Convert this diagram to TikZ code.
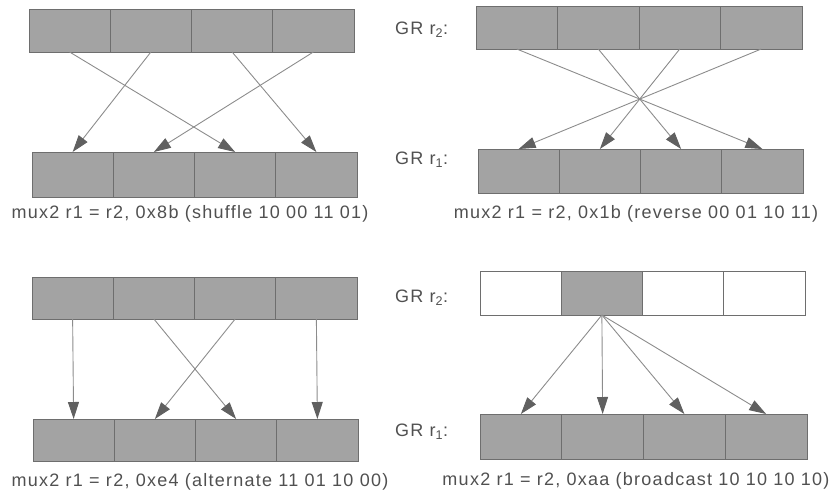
\documentclass[tikz,border=0pt]{standalone}
\usepackage{fontspec}
\setmainfont[LetterSpace=7]{Liberation Sans}
\usetikzlibrary{arrows.meta}
\definecolor{cellfill}{HTML}{A3A3A3}
\definecolor{celldraw}{HTML}{6E6E6E}
\definecolor{linec}{HTML}{8C8C8C}
\definecolor{tipc}{HTML}{606060}
\definecolor{txtc}{HTML}{505050}
\newcommand\mkreg[5]{%
  \pgfmathsetmacro\cw{(#4-#2)/4}%
  \pgfmathsetmacro\ch{#5-#3}%
  \foreach \i in {1,...,4}{%
    \node[cell, minimum width=\cw pt, minimum height=\ch pt, anchor=north west]
      (#1\i) at ({#2+(\i-1)*\cw},#3) {};
  }%
}
\begin{document}
\begin{tikzpicture}[x=1pt,y=-1pt,
  cell/.style={draw=celldraw, fill=cellfill, line width=0.7pt, inner sep=0pt, outer sep=0pt},
  white cell/.style={fill=white},
  conn/.style={draw=linec, line width=0.9pt, -{Triangle[length=17pt,width=11pt,color=tipc]}},
  lbl/.style={text=txtc, font=\fontsize{18}{21}\selectfont, inner sep=0pt},
  grlbl/.style={text=txtc, font=\fontsize{18}{21}\selectfont, inner sep=0pt, anchor=west}]
\useasboundingbox (0,0) rectangle (834,501);
% top-left: shuffle
\mkreg{a}{29}{9}{354}{52}
\mkreg{b}{32}{152}{357}{197}
\draw[conn] (a1.south) -- (b3.north);
\draw[conn] (a2.south) -- (b1.north);
\draw[conn] (a3.south) -- (b4.north);
\draw[conn] (a4.south) -- (b2.north);
\node[lbl] (la) at (190,214) {mux2 r1 = r2, 0x8b (shuffle 10 00 11 01)};
% top-right: reverse
\mkreg{c}{476}{6}{802}{49}
\mkreg{d}{478}{149}{803}{193}
\draw[conn] (c1.south) -- (d4.north);
\draw[conn] (c2.south) -- (d3.north);
\draw[conn] (c3.south) -- (d2.north);
\draw[conn] (c4.south) -- (d1.north);
\node[grlbl] (gc) at (395,30) {GR r\textsubscript{2}:};
\node[grlbl] (gd) at (395,160) {GR r\textsubscript{1}:};
\node[lbl] (lc) at (636,214) {mux2 r1 = r2, 0x1b (reverse 00 01 10 11)};
% bottom-left: alternate
\mkreg{e}{32}{277}{357}{319}
\mkreg{f}{33}{419}{358}{461}
\draw[conn] (e1.south) -- (f1.north);
\draw[conn] (e2.south) -- (f3.north);
\draw[conn] (e3.south) -- (f2.north);
\draw[conn] (e4.south) -- (f4.north);
\node[lbl] (le) at (200,482) {mux2 r1 = r2, 0xe4 (alternate 11 01 10 00)};
% bottom-right: broadcast
\mkreg{g}{480}{271}{805}{315}
\mkreg{h}{480}{414}{807}{459}
\foreach \i in {1,3,4}{\node[cell, white cell, minimum width=81.25pt, minimum height=44pt] at (g\i.center) {};}
\draw[conn] (g2.south) -- (h1.north);
\draw[conn] (g2.south) -- (h2.north);
\draw[conn] (g2.south) -- (h3.north);
\draw[conn] (g2.south) -- (h4.north);
\node[grlbl] (gg) at (395,298) {GR r\textsubscript{2}:};
\node[grlbl] (gh) at (395,432) {GR r\textsubscript{1}:};
\node[lbl] (lg) at (636,481) {mux2 r1 = r2, 0xaa (broadcast 10 10 10 10)};
\end{tikzpicture}
\end{document}
